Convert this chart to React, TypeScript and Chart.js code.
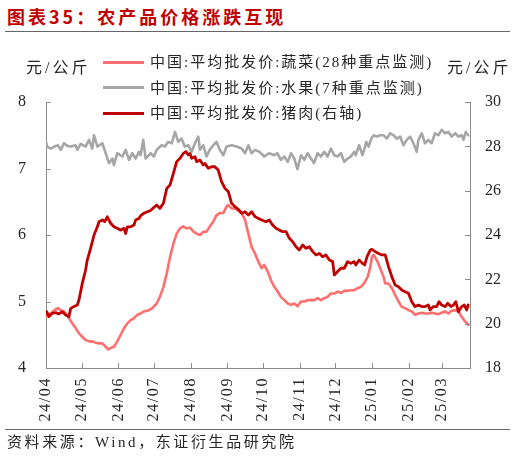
import React, { useEffect, useRef } from "react";
import { Chart, registerables } from "chart.js";

Chart.register(...registerables);

const monthTickDays = [0, 30, 61, 91, 122, 153, 183, 214, 244, 275, 306, 334];
const monthTickLabels = ["24/04", "24/05", "24/06", "24/07", "24/08", "24/09", "24/10", "24/11", "24/12", "25/01", "25/02", "25/03"];

const vegDays = [0, 1.1, 4, 7, 10, 12.4, 15.2, 16.6, 19.4, 22.2, 25, 27.8, 30.6, 33.4, 36.3, 39, 41.9, 44.7, 47.5, 50.3, 52.3, 54.5, 57.3, 60.1, 63, 65.8, 68.6, 71.4, 74.2, 77, 79.8, 82.6, 86.8, 89.6, 93.3, 96, 99, 101.8, 104.6, 107.4, 110.2, 113, 115.8, 118.6, 121.4, 124.3, 127, 130, 132.6, 135.4, 138.2, 141, 143.8, 146.6, 149.5, 152.3, 153.7, 156.5, 159.3, 162, 165, 167.8, 170.6, 173.4, 176.2, 179, 181.8, 184, 187, 189.7, 192.5, 195.3, 198, 201, 203.8, 206.6, 209.4, 212.2, 215, 217.8, 220.6, 223.4, 226.2, 229, 231.8, 234.6, 237.4, 240.2, 243, 245.9, 248.7, 251.5, 254.3, 257, 259.9, 262.7, 265.5, 268.5, 271.4, 273.4, 274.8, 276.2, 279, 281.8, 284.6, 286, 288.8, 291.6, 294.4, 297.2, 300, 302.8, 305.6, 308.4, 311.2, 314, 316.8, 319.6, 322.4, 325.2, 328, 330.8, 333.6, 336.5, 339.3, 342, 345, 347.7, 350.5, 353.3, 356];
const vegPrices = [4.77, 4.80, 4.82, 4.87, 4.90, 4.87, 4.85, 4.82, 4.75, 4.67, 4.60, 4.52, 4.47, 4.42, 4.40, 4.40, 4.38, 4.37, 4.37, 4.32, 4.28, 4.30, 4.32, 4.40, 4.50, 4.60, 4.67, 4.72, 4.75, 4.80, 4.82, 4.85, 4.87, 4.90, 4.97, 5.07, 5.22, 5.42, 5.67, 5.87, 6.02, 6.10, 6.13, 6.10, 6.11, 6.05, 6.02, 6.00, 6.05, 6.05, 6.13, 6.20, 6.30, 6.33, 6.33, 6.43, 6.45, 6.40, 6.40, 6.37, 6.33, 6.23, 6.02, 5.82, 5.72, 5.60, 5.50, 5.55, 5.45, 5.32, 5.22, 5.15, 5.07, 5.02, 4.97, 4.95, 4.97, 4.93, 5.00, 5.00, 5.02, 5.02, 5.02, 5.05, 5.02, 5.05, 5.07, 5.12, 5.12, 5.15, 5.13, 5.16, 5.16, 5.17, 5.17, 5.20, 5.22, 5.28, 5.38, 5.52, 5.67, 5.70, 5.62, 5.50, 5.37, 5.27, 5.27, 5.20, 5.10, 5.00, 4.92, 4.90, 4.87, 4.85, 4.80, 4.82, 4.83, 4.82, 4.82, 4.83, 4.82, 4.81, 4.83, 4.85, 4.82, 4.86, 4.87, 4.85, 4.77, 4.70, 4.65];

const fruitDays = [0, 1, 4, 7, 10, 12.4, 15.2, 18, 21, 25, 26.4, 29.2, 33.4, 36.3, 39, 40.5, 43.3, 47.5, 50.3, 53.1, 56, 57.3, 60.1, 64.4, 67.2, 70, 72.8, 75.6, 78.4, 79.8, 82, 84, 88.3, 91, 93.3, 97.5, 100.3, 103, 106, 108.8, 111.5, 114.2, 117, 120, 122.8, 125.6, 128.4, 129.8, 132.6, 135.4, 138, 141, 143.8, 146.6, 149.5, 152.3, 156.5, 160.7, 165, 167.8, 170.6, 173.4, 176.2, 180, 184, 188, 192.5, 195, 198, 201, 203.8, 206.6, 209.4, 212, 215, 217.8, 220.6, 223.4, 226, 229, 231.8, 234.6, 237.4, 240.2, 243, 245.9, 248.7, 251.5, 254.3, 257, 259.9, 261.2, 264, 266.8, 268.5, 270, 272, 274.3, 276.3, 279, 281.8, 284.6, 287.4, 290.2, 293, 295.8, 298.6, 301.4, 304.2, 307, 309.8, 312.6, 314, 316.8, 319.6, 322.4, 325.2, 328, 330.8, 333.6, 336.5, 339.3, 342, 345, 347.7, 350.5, 352, 354, 356];
const fruitPrices = [7.40, 7.33, 7.30, 7.33, 7.35, 7.28, 7.38, 7.34, 7.33, 7.35, 7.28, 7.37, 7.33, 7.43, 7.30, 7.50, 7.33, 7.38, 7.23, 7.08, 7.15, 7.05, 7.23, 7.18, 7.28, 7.13, 7.23, 7.15, 7.25, 7.20, 7.43, 7.15, 7.23, 7.18, 7.28, 7.35, 7.33, 7.40, 7.38, 7.55, 7.40, 7.45, 7.33, 7.35, 7.25, 7.38, 7.48, 7.28, 7.35, 7.18, 7.28, 7.35, 7.40, 7.28, 7.20, 7.33, 7.35, 7.33, 7.30, 7.23, 7.35, 7.23, 7.28, 7.25, 7.18, 7.23, 7.20, 7.23, 7.13, 7.18, 7.10, 7.23, 7.15, 6.99, 7.20, 7.13, 7.23, 7.15, 7.08, 7.23, 7.18, 7.25, 7.18, 7.30, 7.20, 7.18, 7.23, 7.10, 7.15, 7.18, 7.25, 7.20, 7.35, 7.20, 7.30, 7.40, 7.33, 7.45, 7.50, 7.48, 7.50, 7.50, 7.45, 7.53, 7.50, 7.45, 7.48, 7.35, 7.43, 7.48, 7.38, 7.25, 7.43, 7.53, 7.38, 7.43, 7.38, 7.53, 7.50, 7.58, 7.53, 7.55, 7.48, 7.53, 7.48, 7.50, 7.43, 7.55, 7.50];

const porkDays = [0, 0.6, 2.5, 5.3, 8.1, 10.9, 13.8, 16.6, 19.4, 20.8, 23.6, 26.4, 27.8, 30.6, 33.4, 34.8, 37.6, 40.5, 43.3, 44.7, 47.5, 49.5, 51.7, 54.5, 57.3, 60, 63, 65.8, 67.2, 68.6, 71.4, 74.2, 75.6, 78.4, 80.3, 82.6, 85.4, 88.2, 91, 93.3, 96, 99, 101.8, 104.6, 107.4, 110.2, 113, 115.8, 118, 120, 121.4, 122.8, 125.6, 127, 129.8, 132.6, 134, 136.8, 139.6, 142.4, 145.2, 148, 150.9, 153.7, 156.5, 159.3, 162, 165, 167.8, 170.6, 173.4, 176.2, 179, 181.8, 185.5, 188.3, 191, 194, 196.8, 199.6, 202.4, 205.2, 208, 210.8, 213.6, 216.4, 219.2, 222, 224.9, 227.7, 230.5, 233.3, 236, 238.9, 241.7, 243.1, 245.9, 248.7, 251.5, 254.3, 257, 259.9, 261.2, 264, 266.8, 268.7, 270.7, 273.4, 274.8, 277.6, 280.4, 283.2, 286, 288.8, 291.6, 294.4, 297.2, 300, 302.8, 305.6, 308.4, 311.2, 314, 316.8, 319.6, 322.4, 323.8, 326.6, 329.4, 331.4, 333.6, 336.5, 338.7, 341.5, 343.5, 345.5, 347.7, 350.5, 352.7, 354.7, 356];
const porkPrices = [20.47, 20.54, 20.32, 20.47, 20.50, 20.44, 20.54, 20.39, 20.32, 20.69, 20.77, 20.84, 21.07, 21.82, 22.42, 22.87, 23.40, 24.00, 24.37, 24.60, 24.68, 24.60, 24.82, 24.53, 24.37, 24.30, 24.22, 24.30, 24.07, 24.37, 24.37, 24.45, 24.68, 24.75, 24.90, 24.98, 25.05, 25.10, 25.25, 25.35, 25.20, 25.43, 26.10, 26.26, 26.78, 27.31, 27.46, 27.68, 27.76, 27.61, 27.68, 27.46, 27.53, 27.31, 27.38, 27.16, 27.23, 27.01, 27.08, 27.08, 26.93, 26.41, 26.10, 25.96, 25.43, 25.28, 25.16, 24.98, 25.05, 24.90, 25.05, 24.83, 24.75, 24.68, 24.60, 24.68, 24.45, 24.30, 24.22, 24.15, 24.15, 23.85, 23.70, 23.47, 23.32, 23.55, 23.40, 23.47, 23.25, 23.10, 23.17, 23.02, 23.10, 22.87, 22.80, 22.20, 22.35, 22.50, 22.50, 22.80, 22.72, 22.80, 22.65, 22.87, 22.72, 22.65, 23.02, 23.32, 23.35, 23.25, 23.17, 23.10, 23.10, 22.57, 22.12, 21.74, 21.67, 21.52, 21.44, 21.37, 20.99, 20.77, 20.84, 20.77, 20.77, 20.84, 20.62, 20.77, 20.77, 20.99, 20.84, 20.77, 20.92, 20.77, 20.84, 20.99, 20.54, 20.77, 20.84, 20.62, 20.84];

const seriesNames = ["中国:平均批发价:蔬菜(28种重点监测)", "中国:平均批发价:水果(7种重点监测)", "中国:平均批发价:猪肉(右轴)"];
const seriesColors = ["#FF6F6F", "#A6A6A6", "#C00000"];

const W = 516;
const H = 457;
const PLOT_LEFT = 46;
const PLOT_RIGHT = 470;
const PLOT_TOP = 102;
const PLOT_BOTTOM = 368;

const AXIS_COLOR = "#8C8C8C";
const TEXT_COLOR = "#262626";
const SERIF = "'Liberation Serif', 'Noto Sans CJK SC', serif";
const CJK = "'Liberation Serif', 'Noto Sans CJK SC', sans-serif";

const toPoints = (days: number[], vals: number[]) => days.map((d, i) => ({ x: d, y: vals[i] }));

const inwardTicks = {
  id: "inwardTicks",
  afterUpdate(chart: any) {
    const xs = chart.scales.x;
    if (xs && !xs.__spaced) {
      const orig = xs.drawLabels.bind(xs);
      xs.drawLabels = (area: any) => {
        const ctx = chart.ctx;
        ctx.save();
        ctx.letterSpacing = "1.6px";
        orig(area);
        ctx.restore();
      };
      xs.__spaced = true;
    }
  },
  afterDraw(chart: any) {
    const ctx = chart.ctx;
    const { x, y, y1 } = chart.scales;
    const area = chart.chartArea;
    ctx.save();
    ctx.strokeStyle = AXIS_COLOR;
    ctx.lineWidth = 1;
    ctx.beginPath();
    x.ticks.forEach((t: any) => {
      const px = Math.round(x.getPixelForValue(t.value)) + 0.5;
      ctx.moveTo(px, area.bottom);
      ctx.lineTo(px, area.bottom - 5);
    });
    y.ticks.forEach((t: any) => {
      const py = Math.round(y.getPixelForValue(t.value)) + 0.5;
      ctx.moveTo(area.left, py);
      ctx.lineTo(area.left + 5, py);
    });
    y1.ticks.forEach((t: any) => {
      const py = Math.round(y1.getPixelForValue(t.value)) + 0.5;
      ctx.moveTo(area.right, py);
      ctx.lineTo(area.right - 5, py);
    });
    ctx.stroke();
    ctx.restore();
  },
};

function PriceChart() {
  const ref = useRef<HTMLCanvasElement | null>(null);
  useEffect(() => {
    if (!ref.current) return;
    const chart = new Chart(ref.current, {
      type: "line",
      data: {
        datasets: [
          {
            label: seriesNames[0],
            data: toPoints(vegDays, vegPrices),
            borderColor: seriesColors[0],
            backgroundColor: seriesColors[0],
            borderWidth: 2.6,
            pointRadius: 0,
            yAxisID: "y",
            order: 2,
          },
          {
            label: seriesNames[1],
            data: toPoints(fruitDays, fruitPrices),
            borderColor: seriesColors[1],
            backgroundColor: seriesColors[1],
            borderWidth: 2.6,
            pointRadius: 0,
            yAxisID: "y",
            order: 3,
          },
          {
            label: seriesNames[2],
            data: toPoints(porkDays, porkPrices),
            borderColor: seriesColors[2],
            backgroundColor: seriesColors[2],
            borderWidth: 2.8,
            pointRadius: 0,
            yAxisID: "y1",
            order: 1,
          },
        ],
      },
      options: {
        animation: false,
        responsive: false,
        devicePixelRatio: 1,
        layout: { padding: { top: PLOT_TOP, left: 0, right: 0, bottom: 0 } },
        plugins: { legend: { display: false }, tooltip: { enabled: false } },
        elements: { line: { tension: 0, borderJoinStyle: "round", borderCapStyle: "round" } },
        scales: {
          x: {
            type: "linear",
            position: "bottom",
            min: 0,
            max: 357.5,
            grid: { display: false, drawTicks: false },
            border: { display: true, color: AXIS_COLOR, width: 1 },
            afterBuildTicks: (scale: any) => {
              scale.ticks = monthTickDays.map((v) => ({ value: v }));
            },
            afterFit: (scale: any) => {
              scale.height = H - PLOT_BOTTOM;
            },
            ticks: {
              autoSkip: false,
              minRotation: 90,
              maxRotation: 90,
              padding: 9,
              color: TEXT_COLOR,
              font: { family: SERIF, size: 16 },
              callback: (v: any) => {
                const i = monthTickDays.indexOf(Number(v));
                return i >= 0 ? monthTickLabels[i] : "";
              },
            },
          },
          y: {
            type: "linear",
            position: "left",
            min: 4,
            max: 8,
            grid: { display: false, drawTicks: false },
            border: { display: true, color: AXIS_COLOR, width: 1 },
            afterFit: (scale: any) => {
              scale.width = PLOT_LEFT;
            },
            ticks: {
              stepSize: 1,
              padding: 20,
              color: TEXT_COLOR,
              font: { family: SERIF, size: 16 },
            },
          },
          y1: {
            type: "linear",
            position: "right",
            min: 18,
            max: 30,
            grid: { display: false, drawTicks: false },
            border: { display: true, color: AXIS_COLOR, width: 1 },
            afterFit: (scale: any) => {
              scale.width = W - PLOT_RIGHT;
            },
            ticks: {
              stepSize: 2,
              padding: 15,
              color: TEXT_COLOR,
              font: { family: SERIF, size: 16 },
            },
          },
        },
      },
      plugins: [inwardTicks],
    });
    return () => chart.destroy();
  }, []);
  return (
    <canvas
      ref={ref}
      width={W}
      height={H}
      style={{ position: "absolute", left: 0, top: 0, width: W, height: H }}
    />
  );
}

export default function App() {
  const legendTop = [62, 87.5, 113];
  return (
    <div
      style={{
        position: "absolute",
        left: 0,
        top: 0,
        width: W,
        height: H,
        background: "#fff",
        overflow: "hidden",
      }}
    >
      <div
        style={{
          position: "absolute",
          left: 7,
          top: 6,
          fontFamily: "'Noto Sans CJK SC', sans-serif",
          fontWeight: 700,
          fontSize: 18,
          lineHeight: "20px",
          letterSpacing: 3,
          color: "#C00000",
          whiteSpace: "nowrap",
        }}
      >
        图表35：农产品价格涨跌互现
      </div>
      <div style={{ position: "absolute", left: 5, top: 30.5, width: 505, height: 1, background: "#666" }} />
      <PriceChart />
      <div
        style={{
          position: "absolute",
          left: 26,
          top: 58,
          fontFamily: CJK,
          fontSize: 16,
          lineHeight: "20px",
          letterSpacing: 3,
          color: TEXT_COLOR,
          whiteSpace: "nowrap",
        }}
      >
        元/公斤
      </div>
      <div
        style={{
          position: "absolute",
          left: 447,
          top: 58,
          fontFamily: CJK,
          fontSize: 16,
          lineHeight: "20px",
          letterSpacing: 3,
          color: TEXT_COLOR,
          whiteSpace: "nowrap",
        }}
      >
        元/公斤
      </div>
      {seriesNames.map((name, i) => (
        <div key={name}>
          <div
            style={{
              position: "absolute",
              left: 103,
              top: legendTop[i] - 1.5,
              width: 41,
              height: 3,
              background: seriesColors[i],
            }}
          />
          <div
            style={{
              position: "absolute",
              left: 150,
              top: legendTop[i] - 10,
              fontFamily: CJK,
              fontSize: 15,
              lineHeight: "20px",
              letterSpacing: 2,
              color: TEXT_COLOR,
              whiteSpace: "nowrap",
            }}
          >
            {name}
          </div>
        </div>
      ))}
      <div style={{ position: "absolute", left: 5, top: 428.5, width: 505, height: 1, background: "#666" }} />
      <div
        style={{
          position: "absolute",
          left: 7,
          top: 432,
          fontFamily: CJK,
          fontSize: 15,
          lineHeight: "20px",
          letterSpacing: 2.6,
          color: TEXT_COLOR,
          whiteSpace: "nowrap",
        }}
      >
        资料来源：Wind，东证衍生品研究院
      </div>
    </div>
  );
}
